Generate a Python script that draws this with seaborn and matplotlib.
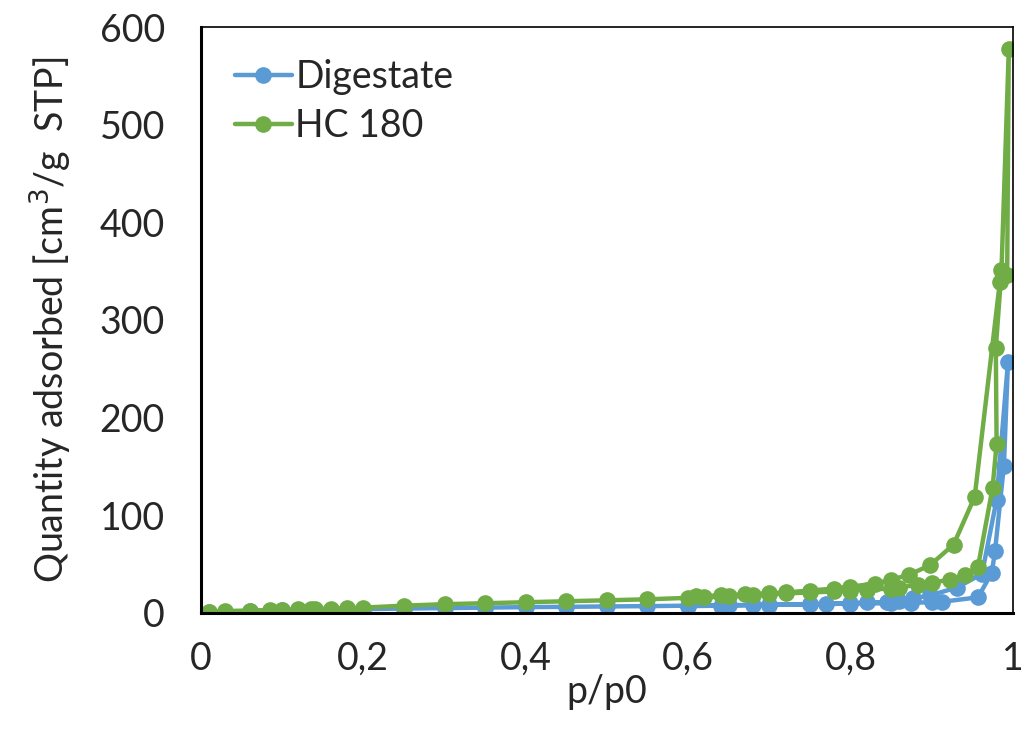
import numpy as np
import pandas as pd
import seaborn as sns
import matplotlib.pyplot as plt

# Digestate isotherm (adsorption then desorption, in measured order)
digestate_p = [0.01, 0.03, 0.06, 0.085, 0.10, 0.12, 0.14, 0.16, 0.18, 0.20,
               0.25, 0.30, 0.35, 0.40, 0.45, 0.50, 0.55, 0.60, 0.65, 0.70,
               0.75, 0.80, 0.85, 0.875, 0.90, 0.913, 0.957, 0.974, 0.978, 0.989, 0.994,
               0.98, 0.962, 0.931, 0.898, 0.877, 0.86, 0.845, 0.82, 0.80,
               0.77, 0.75, 0.70, 0.68, 0.64, 0.60]
digestate_q = [1, 1.5, 2, 2.5, 2.8, 3, 3.2, 3.5, 3.8, 4,
               4.5, 5, 5.5, 6, 6.3, 6.7, 7, 7.5, 8, 8.5,
               9, 9.5, 10, 10.5, 11, 11.5, 16, 41, 63, 151, 257,
               116, 40, 26, 18, 15, 12, 11, 11, 10,
               9.5, 9, 8.5, 8, 7.5, 7]

# HC 180 isotherm
hc180_p = [0.01, 0.03, 0.06, 0.085, 0.10, 0.12, 0.135, 0.14, 0.16, 0.18, 0.20,
           0.25, 0.30, 0.35, 0.40, 0.45, 0.50, 0.55, 0.60, 0.62, 0.65, 0.68,
           0.70, 0.72, 0.75, 0.78, 0.80, 0.82, 0.85, 0.86, 0.883, 0.90, 0.922,
           0.941, 0.957, 0.975, 0.98, 0.979, 0.986, 0.995,
           0.993, 0.984, 0.953, 0.927, 0.898, 0.872, 0.85, 0.83, 0.80, 0.78,
           0.75, 0.72, 0.70, 0.67, 0.64, 0.61]
hc180_q = [1.5, 2, 2.5, 3, 3.3, 3.6, 4, 4.2, 4.5, 4.8, 5.5,
           7.5, 9, 10, 11, 12, 13, 14, 15.5, 16, 17, 18,
           19, 20, 21, 22, 23, 24, 25, 26, 29, 31, 34,
           39, 47, 128, 173, 271, 351, 577,
           346, 339, 119, 70, 49, 39, 34, 30, 27, 25,
           23, 21, 20, 19, 18, 17]

df = pd.DataFrame({
    'p': digestate_p + hc180_p,
    'q': digestate_q + hc180_q,
    'sample': ['Digestate'] * len(digestate_p) + ['HC 180'] * len(hc180_p),
})

sns.set_style('white')
plt.rcParams['font.family'] = ['Lato', 'DejaVu Sans']

fig = plt.figure(figsize=(10.29, 7.38), dpi=100)
ax = fig.add_axes([0.1953, 0.1694, 0.789, 0.794])

sns.lineplot(data=df, x='p', y='q', hue='sample', sort=False, estimator=None,
             palette={'Digestate': '#5B9BD5', 'HC 180': '#70AD47'},
             marker='o', markersize=12, markeredgewidth=0, linewidth=3.2, ax=ax)

ax.set_xlim(0, 1)
ax.set_ylim(0, 600)
ax.set_xticks([0, 0.2, 0.4, 0.6, 0.8, 1.0])
ax.set_xticklabels(['0', '0,2', '0,4', '0,6', '0,8', '1'])
ax.set_yticks(range(0, 601, 100))
ax.tick_params(axis='both', labelsize=27, length=0)
ax.tick_params(axis='y', pad=26)
ax.tick_params(axis='x', pad=20)
ax.set_xlabel('p/p0', fontsize=27, labelpad=-2)
ax.set_ylabel('Quantity adsorbed [cm$^3$/g  STP]', fontsize=27, labelpad=18)

for side in ['left', 'bottom']:
    ax.spines[side].set_linewidth(2.2)
for side in ['top', 'right']:
    ax.spines[side].set_linewidth(1.2)
for s in ax.spines.values():
    s.set_color('black')

leg = ax.legend(loc='upper left', frameon=False, fontsize=27, handlelength=1.5,
                handletextpad=0.1, borderaxespad=0.3, labelspacing=0.35,
                bbox_to_anchor=(0.01, 0.99))

fig.savefig('out.png', dpi=100)
